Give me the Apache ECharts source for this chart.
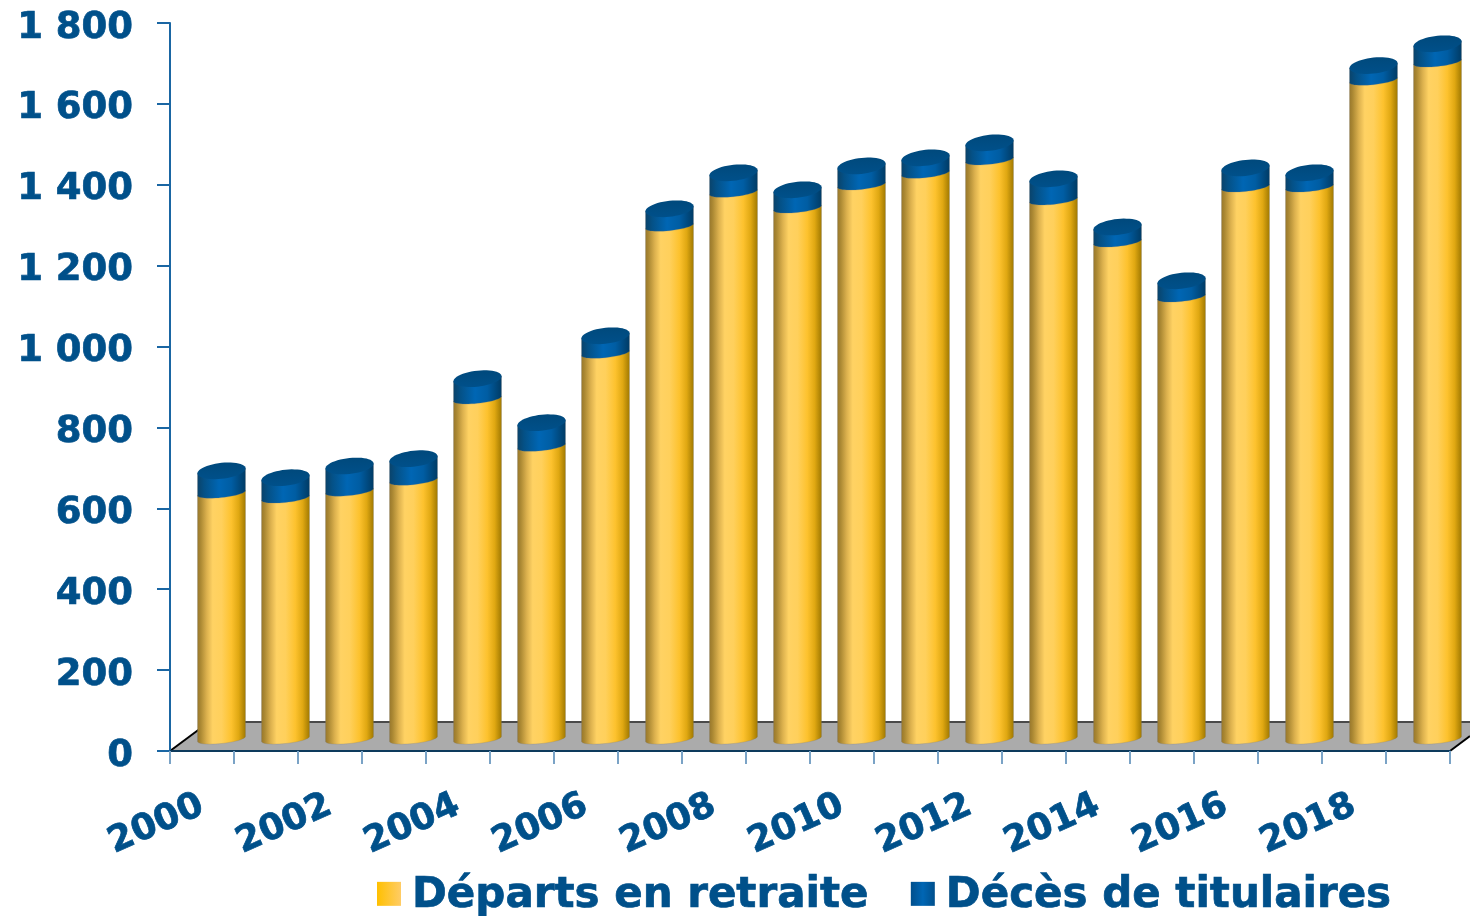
<!DOCTYPE html>
<html><head><meta charset="utf-8">
<style>html,body{margin:0;padding:0;background:#fff}#c{width:1470px;height:916px}</style>
<script src="https://cdn.jsdelivr.net/npm/echarts@6/dist/echarts.min.js"></script>
</head><body><div id="c"></div>
<script>
const years = ['2000','2001','2002','2003','2004','2005','2006','2007','2008','2009','2010','2011','2012','2013','2014','2015','2016','2017','2018','2019'];
const departs = [608,596,613,640,841,724,954,1268,1352,1313,1370,1399,1432,1333,1229,1093,1365,1365,1629,1674];
const deces = [55,50,62,53,50,58,43,43,48,45,47,38,42,52,37,40,47,35,36,45];
const yTicks = {min:0,max:1800,step:200};
const nameDeparts = 'Départs en retraite', nameDeces = 'Décès de titulaires';

const TEXT = '#00508A', FONT = '"DejaVu Sans", Verdana, sans-serif';
const DEPTH_X = 19.5, DEPTH_Y = 12, RX = 24, RY_BODY = 4.5, RY_CAP = 8, SHEAR = 2.5;
const heavy = {textBorderColor:TEXT,textBorderWidth:0.7};
const hGrad = stops => new echarts.graphic.LinearGradient(0,0,1,0,stops.map(s=>({offset:s[0],color:s[1]})));
const yellowGrad = hGrad([[0,'#94742a'],[0.08,'#ad8a34'],[0.2,'#dcb14e'],[0.32,'#ffd263'],[0.5,'#ffd05c'],[0.7,'#fdc22e'],[0.85,'#e0a812'],[1,'#9c7600']]);
const blueGrad = hGrad([[0,'#0b4268'],[0.15,'#045187'],[0.45,'#0066b4'],[0.7,'#005da3'],[1,'#003a63']]);
const capGrad = new echarts.graphic.LinearGradient(0,0,0,1,[{offset:0,color:'#00497c'},{offset:1,color:'#00508a'}]);
const legendYellow = hGrad([[0,'#ffc000'],[1,'#ffcc66']]);
const legendBlue = hGrad([[0,'#004f8c'],[0.5,'#0066b4'],[1,'#004f8c']]);

function arc(cx, cy, ry, from, to, n){
  const pts=[];
  for(let i=0;i<=n;i++){
    const t=from+(to-from)*i/n;
    pts.push([cx+RX*Math.cos(t), cy+ry*Math.sin(t)-SHEAR*Math.cos(t)]);
  }
  return pts;
}
function cylinder(hasCap, grad){
  return function(params, api){
    const base=api.coord([api.value(0),api.value(1)]), top=api.coord([api.value(0),api.value(2)]);
    const cx=base[0]+DEPTH_X, yb=base[1]-DEPTH_Y, yt=top[1]-DEPTH_Y;
    const body=[...arc(cx,yb,RY_BODY,0,Math.PI,24), [cx-RX,yt+SHEAR],[cx+RX,yt-SHEAR]];
    const children=[{type:'polygon',shape:{points:body},style:{fill:grad,stroke:'rgba(120,120,120,0.25)',lineWidth:1}}];
    if(hasCap) children.push({type:'polygon',shape:{points:arc(cx,yt,RY_CAP,0,2*Math.PI,48)},style:{fill:capGrad}});
    return {type:'group',children};
  };
}
function floorItem(params, api){
  const cs=params.coordSys, y0=api.coord([0,0])[1], dy=29, dx=39, xr=cs.x+cs.width, W=api.getWidth();
  const yCut=y0-(W-xr)*dy/dx;
  return {type:'group',children:[
    {type:'polygon',shape:{points:[[cs.x,y0],[xr,y0],[W,yCut],[W,y0-dy],[cs.x+dx,y0-dy]]},style:{fill:'#ababab'}},
    {type:'line',shape:{x1:cs.x+dx,y1:y0-dy,x2:W,y2:y0-dy},style:{stroke:'#4a4a4a',lineWidth:2}},
    {type:'line',shape:{x1:cs.x,y1:y0,x2:cs.x+dx,y2:y0-dy},style:{stroke:'#000',lineWidth:2}},
    {type:'line',shape:{x1:xr,y1:y0,x2:W,y2:yCut},style:{stroke:'#000',lineWidth:2}}
  ]};
}
const rowsDeparts = years.map((y,i)=>[i,0,departs[i]]);
const rowsDeces = years.map((y,i)=>[i,departs[i],departs[i]+deces[i]]);

const chart = echarts.init(document.getElementById('c'),null,{renderer:'canvas'});
chart.setOption({
  animation:false,
  backgroundColor:'#fff',
  grid:{left:170,right:20,top:23,bottom:165,containLabel:false},
  legend:{
    left:377, top:875, padding:0, itemWidth:24, itemHeight:24, itemGap:42, icon:'rect', selectedMode:false,
    formatter:n=>'{t|'+n+'}',
    textStyle:{color:TEXT,fontFamily:FONT,fontWeight:'bold',fontSize:42,
      rich:{t:{color:TEXT,fontFamily:FONT,fontWeight:'bold',fontSize:42,padding:[5,0,0,6],...heavy}}},
    data:[{name:nameDeparts,itemStyle:{color:legendYellow}},{name:nameDeces,itemStyle:{color:legendBlue}}]
  },
  xAxis:{
    type:'category',data:years,z:6,
    axisLine:{show:true,lineStyle:{color:'#0d3a5c',width:2}},
    axisTick:{show:true,length:13,alignWithLabel:false,interval:0,lineStyle:{color:'#7aa3c6',width:2}},
    axisLabel:{interval:1,rotate:24,margin:53,color:TEXT,fontFamily:FONT,fontWeight:'bold',fontSize:36,...heavy}
  },
  yAxis:{
    type:'value',min:yTicks.min,max:yTicks.max,interval:yTicks.step,z:6,
    splitLine:{show:false},
    axisLine:{show:true,lineStyle:{color:'#1a66a3',width:2}},
    axisTick:{show:true,length:13,lineStyle:{color:'#1a66a3',width:2}},
    axisLabel:{margin:37,color:TEXT,fontFamily:FONT,fontWeight:'bold',fontSize:37,
      rich:{t:{color:TEXT,fontFamily:FONT,fontWeight:'bold',fontSize:37,padding:[10,0,0,0],...heavy}},
      formatter:v=>'{t|'+(v>=1000?Math.floor(v/1000)+' '+String(v%1000).padStart(3,'0'):String(v))+'}'}
  },
  series:[
    {type:'custom',name:'floor',silent:true,z:1,renderItem:floorItem,data:[[0,0]],clip:false},
    {type:'custom',name:nameDeparts,z:2,renderItem:cylinder(false,yellowGrad),data:rowsDeparts,encode:{x:0,y:2},itemStyle:{color:legendYellow},clip:false},
    {type:'custom',name:nameDeces,z:3,renderItem:cylinder(true,blueGrad),data:rowsDeces,encode:{x:0,y:2},itemStyle:{color:legendBlue},clip:false}
  ]
});
</script></body></html>
